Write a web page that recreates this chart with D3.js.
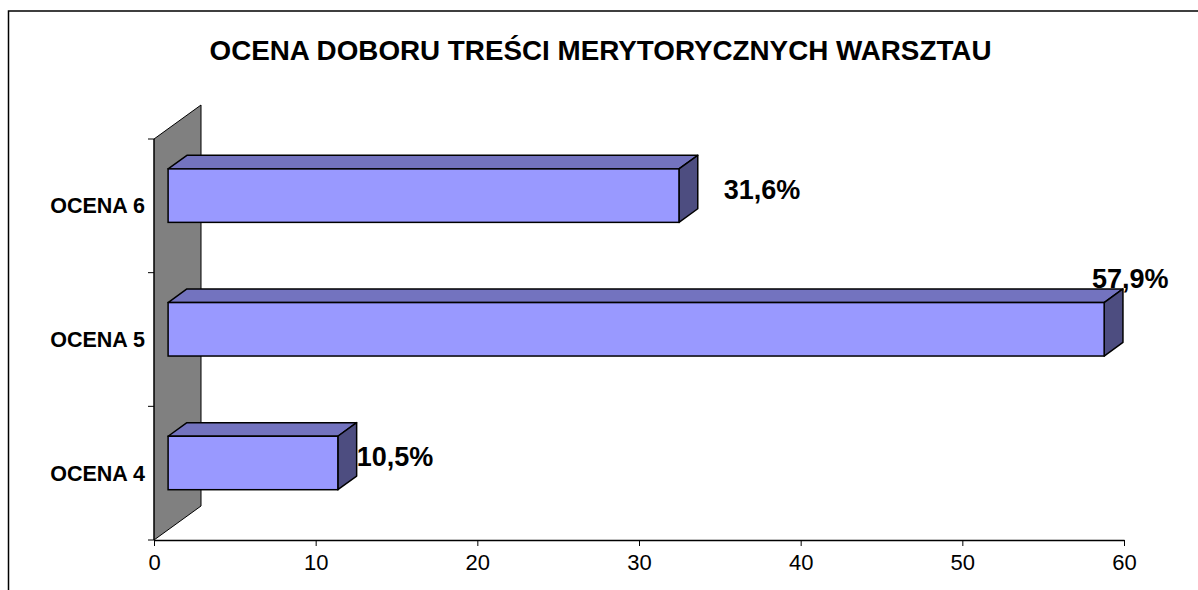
<!DOCTYPE html>
<html>
<head>
<meta charset="utf-8">
<script src="https://cdn.jsdelivr.net/npm/d3@7"></script>
<style>
  body { margin: 0; background: #fff; }
  svg { display: block; font-family: "Liberation Sans", Arial, sans-serif; }
</style>
</head>
<body>
<svg id="chart" width="1198" height="590"></svg>
<script>
// data
const title = "OCENA DOBORU TREŚCI MERYTORYCZNYCH WARSZTAU";
const categories = ["OCENA 6", "OCENA 5", "OCENA 4"];
const values = [31.6, 57.9, 10.5];
const valueLabels = ["31,6%", "57,9%", "10,5%"];
const xTicks = [0, 10, 20, 30, 40, 50, 60];

// layout
const width = 1198, height = 590;
const plot = {left: 154, right: 1124, top: 139, bottom: 540};
const depth = {dx: 47, dy: -34};          // 3d wall depth
const barFront = 0.3, barBack = 0.7;      // bar position inside depth
// label nudges from bar's back end (x) and front centre (y)
const labelNudge = [{dx: 26, dy: -7}, {dx: -31, dy: -51}, {dx: 0, dy: -7}];

const svg = d3.select("#chart");

svg.append("rect")
    .attr("width", width).attr("height", height).attr("fill", "#fff");

// outer frame (right & bottom edges fall off the picture)
svg.append("rect")
    .attr("x", 8.5).attr("y", 11)
    .attr("width", width + 20).attr("height", height + 20)
    .attr("fill", "none").attr("stroke", "#000").attr("stroke-width", 1.5);

const x = d3.scaleLinear().domain([0, 60]).range([plot.left, plot.right]);
const y = d3.scaleBand().domain(categories)
    .range([plot.top, plot.bottom])
    .paddingInner(0.6).paddingOuter(0.3);

// gray back wall
const wall = [
    [plot.left, plot.bottom], [plot.left, plot.top],
    [plot.left + depth.dx, plot.top + depth.dy],
    [plot.left + depth.dx, plot.bottom + depth.dy]
];
svg.append("polygon")
    .attr("points", wall.map(p => p.join(",")).join(" "))
    .attr("fill", "#808080").attr("stroke", "#000").attr("stroke-width", 1);

// category axis
const step = y.step();
const bounds = [plot.top, plot.top + step, plot.top + 2 * step, plot.bottom];
svg.append("line")
    .attr("x1", plot.left).attr("x2", plot.left)
    .attr("y1", plot.top).attr("y2", plot.bottom)
    .attr("stroke", "#000").attr("stroke-width", 1);
svg.selectAll(".ytick").data(bounds).join("line")
    .attr("class", "ytick")
    .attr("x1", plot.left - 6).attr("x2", plot.left)
    .attr("y1", d => d).attr("y2", d => d)
    .attr("stroke", "#000").attr("stroke-width", 1);

svg.selectAll(".ylab").data(categories).join("text")
    .attr("class", "ylab")
    .attr("x", 145)
    .attr("y", d => y(d) + y.bandwidth() / 2 + 7.5)
    .attr("text-anchor", "end")
    .attr("font-weight", "bold").attr("font-size", 21.5)
    .text(d => d);

// value axis
const xAxis = svg.append("g")
    .attr("transform", `translate(0,${plot.bottom})`)
    .call(d3.axisBottom(x).tickValues(xTicks).tickSize(6).tickSizeOuter(0).tickPadding(8));
xAxis.select(".domain").attr("stroke", "#000").attr("stroke-width", 1.5);
xAxis.selectAll(".tick line").attr("stroke", "#000");
xAxis.selectAll(".tick text")
    .attr("font-family", "Liberation Sans, Arial, sans-serif")
    .attr("font-size", 22).attr("fill", "#000");

// 3d bars
const rows = categories.map((c, i) => ({cat: c, v: values[i], label: valueLabels[i], nudge: labelNudge[i]}));
const fx = barFront * depth.dx, fy = barFront * depth.dy;
const bx = barBack * depth.dx, by = barBack * depth.dy;

const bars = svg.selectAll(".bar").data(rows).join("g").attr("class", "bar");

// top face
bars.append("polygon")
    .attr("points", d => {
        const x0 = x(0), x1 = x(d.v), yt = y(d.cat);
        return [[x0 + fx, yt + fy], [x0 + bx, yt + by], [x1 + bx, yt + by], [x1 + fx, yt + fy]]
            .map(p => p.join(",")).join(" ");
    })
    .attr("fill", "#7373BF").attr("stroke", "#000").attr("stroke-width", 1.5)
    .attr("stroke-linejoin", "round");

// side face
bars.append("polygon")
    .attr("points", d => {
        const x1 = x(d.v), yt = y(d.cat), yb = yt + y.bandwidth();
        return [[x1 + fx, yt + fy], [x1 + bx, yt + by], [x1 + bx, yb + by], [x1 + fx, yb + fy]]
            .map(p => p.join(",")).join(" ");
    })
    .attr("fill", "#4D4D80").attr("stroke", "#000").attr("stroke-width", 1.5)
    .attr("stroke-linejoin", "round");

// front face
bars.append("rect")
    .attr("x", d => x(0) + fx)
    .attr("y", d => y(d.cat) + fy)
    .attr("width", d => x(d.v) - x(0))
    .attr("height", y.bandwidth())
    .attr("fill", "#9999FF").attr("stroke", "#000").attr("stroke-width", 1.5);

// value labels
bars.append("text")
    .attr("x", d => x(d.v) + bx + d.nudge.dx)
    .attr("y", d => y(d.cat) + fy + y.bandwidth() / 2 + d.nudge.dy + 10)
    .attr("font-weight", "bold").attr("font-size", 27)
    .text(d => d.label);

// title
svg.append("text")
    .attr("x", 600.5).attr("y", 60)
    .attr("text-anchor", "middle")
    .attr("font-weight", "bold").attr("font-size", 27.8)
    .text(title);
</script>
</body>
</html>
